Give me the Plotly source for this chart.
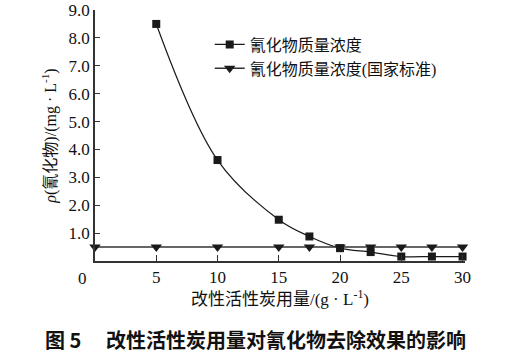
import plotly.graph_objects as go

dose = [5, 10, 15, 17.5, 20, 22.5, 25, 27.5, 30]
cyanide = [8.5, 3.62, 1.48, 0.88, 0.46, 0.32, 0.16, 0.16, 0.16]
std_x = [0, 5, 10, 15, 17.5, 20, 22.5, 25, 27.5, 30]
std_y = [0.5] * len(std_x)
xticks = [5, 10, 15, 20, 25, 30]
yticks = [1, 2, 3, 4, 5, 6, 7, 8, 9]

SERIF = "Liberation Serif, Times New Roman, serif"
CJK = "Liberation Serif, Noto Sans CJK SC, serif"

fig = go.Figure()
fig.add_trace(go.Scatter(
    x=dose, y=cyanide, mode="lines+markers", name="氰化物质量浓度",
    line=dict(color="#1a1a1a", width=1.2, shape="spline", smoothing=1.0),
    marker=dict(symbol="square", size=8, color="#1a1a1a"),
    cliponaxis=False,
))
fig.add_trace(go.Scatter(
    x=std_x, y=std_y, mode="lines+markers", name="氰化物质量浓度(国家标准)",
    line=dict(color="#333333", width=1.6),
    marker=dict(symbol="triangle-down", size=10, color="#1a1a1a"),
    cliponaxis=False,
))

fig.update_layout(
    width=521, height=362,
    paper_bgcolor="white", plot_bgcolor="white",
    margin=dict(l=95, r=56, t=10, b=101, autoexpand=False),
    showlegend=True,
    legend=dict(x=0.31, y=0.93, xanchor="left", yanchor="top",
                bgcolor="rgba(0,0,0,0)", font=dict(family=CJK, size=16, color="#111"),
                itemwidth=30, tracegroupgap=0),
    font=dict(family=SERIF, color="#111"),
)
fig.update_xaxes(
    range=[0, 30.2], tickvals=xticks, ticktext=[str(v) for v in xticks],
    ticks="inside", ticklen=6, tickcolor="#333", showline=True, linecolor="#333", linewidth=1.5,
    showgrid=False, zeroline=False, automargin=False, ticklabeloverflow="allow",
    tickfont=dict(family=SERIF, size=17, color="#111"),
    title=dict(text="改性活性炭用量/(g · L<sup>-1</sup>)", font=dict(family=CJK, size=17, color="#111"), standoff=2),
)
fig.update_yaxes(
    range=[0, 9], tickvals=yticks, ticktext=["%.1f" % v for v in yticks],
    ticks="inside", ticklen=5, tickcolor="#333", showline=True, linecolor="#333", linewidth=1.5,
    showgrid=False, zeroline=False, automargin=False, ticklabeloverflow="allow",
    tickfont=dict(family=SERIF, size=17, color="#111"),
    title=dict(text="<i>ρ</i>(氰化物)/(mg · L<sup>-1</sup>)", font=dict(family=CJK, size=16, color="#111"), standoff=8),
)
fig.add_annotation(x=0, y=0, xref="x", yref="y", text="0", showarrow=False,
                   xanchor="right", yanchor="top", xshift=-6, yshift=-6,
                   font=dict(family=SERIF, size=17, color="#111"))
fig.add_annotation(x=0.5, y=-0.313, xref="paper", yref="paper", xanchor="center", yanchor="middle",
                   text="<b>图 5　 改性活性炭用量对氰化物去除效果的影响</b>", showarrow=False,
                   xshift=-25, font=dict(family="Noto Sans CJK SC, sans-serif", size=20, color="#111"))

fig.write_html("out.html", config={"displayModeBar": False},
               post_script="document.body.style.margin='0';")
